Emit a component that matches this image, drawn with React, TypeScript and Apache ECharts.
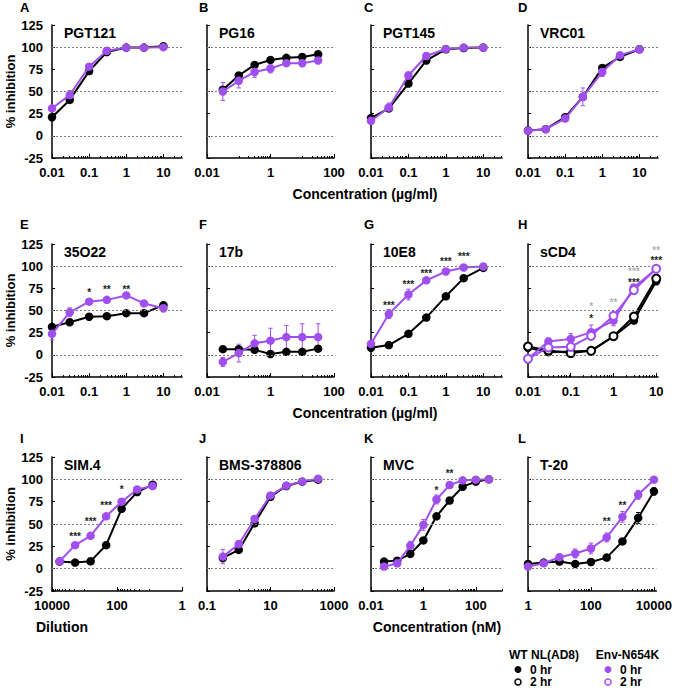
import React, { useEffect, useRef } from 'react';
import * as echarts from 'echarts';

const FONT = '"Liberation Sans", Arial, Helvetica, sans-serif';
const BLACK = '#000000';
const PURPLE = '#a14ef0';
const STAR_GRAY = '#b4b4b4';
const STAR_DARK = '#222222';

const PANEL_LETTERS = ['A', 'B', 'C', 'D', 'E', 'F', 'G', 'H', 'I', 'J', 'K', 'L'];
const PANEL_NAMES = ['PGT121', 'PG16', 'PGT145', 'VRC01', '35O22', '17b', '10E8', 'sCD4', 'SIM.4', 'BMS-378806', 'MVC', 'T-20'];

// x values (concentrations / dilutions)
const CONC_3X = [0.01, 0.03, 0.1, 0.3, 1, 3, 10];
const CONC_HALFLOG = [0.0316, 0.1, 0.316, 1, 3.16, 10, 31.6];
const DIL_SIM4 = [5832, 1944, 648, 216, 72, 24, 8];
const CONC_BMS = [0.316, 1, 3.16, 10, 31.6, 100, 316];
const CONC_MVC = [0.0316, 0.1, 0.316, 1, 3.16, 10, 31.6, 100, 316];
const CONC_T20 = [1, 3.16, 10, 31.6, 100, 316, 1000, 3162, 10000];

// x tick labels
const TICKS_DEC = [0.01, 0.1, 1, 10];
const TICKS_2DEC = [0.01, 1, 100];
const TICKS_DIL = [10000, 100, 1];
const TICKS_BMS = [0.1, 10, 1000];
const TICKS_T20 = [1, 100, 10000];
const Y_TICKS = [-25, 0, 25, 50, 75, 100, 125];
const GUIDE_LINES = [0, 50, 100];

// A PGT121
const A_WT = [21, 40.5, 73, 94.6, 99.5, 99.5, 101];
const A_N = [31, 46, 78, 96, 99.5, 99.5, 100];
const A_N_ERR = [2, 5, 3, 2, 1, 1, 1];
// B PG16
const B_WT = [52, 68, 80, 85.6, 88, 89, 92];
const B_WT_ERR = [2, 3, 1, 1, 1, 1, 1];
const B_N = [50, 62, 72, 76, 82, 82, 85];
const B_N_ERR = [10, 8, 6, 5, 3, 4, 3];
// C PGT145
const C_WT = [20, 31, 59, 85, 97.6, 99, 99.5];
const C_N = [17, 32, 68, 90, 98, 99.5, 99.5];
const C_N_ERR = [2, 5, 4, 2, 1, 1, 1];
// D VRC01
const D_WT = [6, 7.5, 21, 44, 76.6, 89, 97.6];
const D_N = [5.6, 7.5, 19.5, 44, 72, 91, 97.6];
const D_N_ERR = [1, 1, 2, 10, 5, 2, 1];
// E 35O22
const E_WT = [31.6, 36.8, 43, 43.6, 47, 47, 56];
const E_N = [23.7, 48, 60, 62, 67, 58, 52.6];
const E_N_ERR = [7, 5, 3, 2, 2, 2, 4];
const E_STAR_X = [0.1, 0.3, 1];
const E_STAR_Y = [73, 76, 76];
const E_STAR_T = ['*', '**', '**'];
// F 17b
const F_WT = [6.4, 6.4, 5.6, 1, 3.4, 3.4, 7];
const F_WT_ERR = [1, 3, 2, 1, 1, 1, 1];
const F_N = [-8, 2, 13, 16, 20, 20, 20];
const F_N_ERR = [5, 10, 9, 14, 13, 15, 15];
// G 10E8
const G_WT = [8, 11, 23.7, 42, 66, 86.5, 98];
const G_N = [12.4, 46, 68, 84, 94, 98.5, 99.6];
const G_N_ERR = [2, 5, 6, 2, 1, 1, 1];
const G_STAR_X = [0.03, 0.1, 0.3, 1, 3];
const G_STAR_Y = [58, 82, 95, 108.6, 114];
const G_STAR_T = ['***', '***', '***', '***', '***'];
// H sCD4
const H_WT_0 = [8, 3, 3.8, 4.5, 20.7, 38.7, 83];
const H_WT_2 = [9.4, 5, 2, 4.5, 21, 43.2, 86];
const H_N_0 = [-4.5, 15, 18, 25.6, 38.7, 76, 97];
const H_N_0_ERR = [2, 4, 6, 8, 6, 3, 1];
const H_N_2 = [-4.5, 8.3, 9, 21.4, 44, 73, 97];
const H_STAR2_X = [0.3, 1, 3, 10];
const H_STAR2_Y = [57, 62, 97, 120];
const H_STAR2_T = ['*', '**', '***', '**'];
const H_STAR0_X = [0.3, 3, 10];
const H_STAR0_Y = [44, 84, 109];
const H_STAR0_T = ['*', '***', '***'];
// I SIM.4
const I_WT = [7.9, 6.8, 8.3, 26.3, 67, 85.7, 94];
const I_N = [8.3, 26.3, 36.8, 58.6, 75, 88.7, 92.5];
const I_N_ERR = [2, 3, 2, 2, 2, 2, 1];
const I_STAR_X = [1944, 648, 216, 72];
const I_STAR_Y = [38.7, 56, 73.7, 91];
const I_STAR_T = ['***', '***', '***', '*'];
// J BMS-378806
const J_WT = [12, 21, 50.8, 80.5, 92.5, 97.4, 99.6];
const J_N = [13.5, 27.4, 55.6, 82, 93, 97.7, 100.7];
const J_N_ERR = [8, 4, 4, 2, 1, 1, 1];
// K MVC
const K_WT = [7.9, 9, 16.5, 31.6, 58.6, 76.3, 91.7, 97.4, 100];
const K_N = [2.3, 6, 25.6, 49, 77.4, 93.6, 98.9, 99.6, 100];
const K_N_ERR = [1, 2, 5, 6, 5, 2, 1, 1, 1];
const K_STAR_X = [3.16, 10];
const K_STAR_Y = [90, 109];
const K_STAR_T = ['*', '**'];
// L T-20
const L_WT = [5.3, 6.8, 7.9, 5.3, 7.5, 12.4, 30.5, 56.8, 86.5];
const L_WT_ERR = [1, 1, 1, 1, 1, 1, 2, 6, 4];
const L_N = [2.3, 6, 12.8, 17, 22.6, 35, 58, 82.7, 99.6];
const L_N_ERR = [1, 1, 2, 5, 6, 5, 6, 5, 1];
const L_STAR_X = [316, 1000];
const L_STAR_Y = [55.6, 73.7];
const L_STAR_T = ['**', '**'];

// layout
const COL_LEFT = [52, 207, 371, 528];
const COL_WIDTH = [130, 127, 131, 130];
const ROW_TOP = [25, 244, 457];
const ROW_HEIGHT = [133, 133, 134];

type S = { y: number[]; err?: number[]; color: string; open?: boolean };
type Star = { x: number[]; y: number[]; t: string[]; color: string };
type P = { xs: number[]; range: [number, number]; ticks: number[]; inverse?: boolean; series: S[]; stars?: Star[] };

const PANELS: P[] = [
  { xs: CONC_3X, range: [0.01, 31.6], ticks: TICKS_DEC, series: [{ y: A_WT, color: BLACK }, { y: A_N, err: A_N_ERR, color: PURPLE }] },
  { xs: CONC_HALFLOG, range: [0.01, 100], ticks: TICKS_2DEC, series: [{ y: B_WT, err: B_WT_ERR, color: BLACK }, { y: B_N, err: B_N_ERR, color: PURPLE }] },
  { xs: CONC_3X, range: [0.01, 31.6], ticks: TICKS_DEC, series: [{ y: C_WT, color: BLACK }, { y: C_N, err: C_N_ERR, color: PURPLE }] },
  { xs: CONC_3X, range: [0.01, 31.6], ticks: TICKS_DEC, series: [{ y: D_WT, color: BLACK }, { y: D_N, err: D_N_ERR, color: PURPLE }] },
  { xs: CONC_3X, range: [0.01, 31.6], ticks: TICKS_DEC, series: [{ y: E_WT, color: BLACK }, { y: E_N, err: E_N_ERR, color: PURPLE }],
    stars: [{ x: E_STAR_X, y: E_STAR_Y, t: E_STAR_T, color: STAR_DARK }] },
  { xs: CONC_HALFLOG, range: [0.01, 100], ticks: TICKS_2DEC, series: [{ y: F_WT, err: F_WT_ERR, color: BLACK }, { y: F_N, err: F_N_ERR, color: PURPLE }] },
  { xs: CONC_3X, range: [0.01, 31.6], ticks: TICKS_DEC, series: [{ y: G_WT, color: BLACK }, { y: G_N, err: G_N_ERR, color: PURPLE }],
    stars: [{ x: G_STAR_X, y: G_STAR_Y, t: G_STAR_T, color: STAR_DARK }] },
  { xs: CONC_3X, range: [0.01, 11], ticks: TICKS_DEC,
    series: [{ y: H_WT_0, color: BLACK }, { y: H_WT_2, color: BLACK, open: true }, { y: H_N_0, err: H_N_0_ERR, color: PURPLE }, { y: H_N_2, color: PURPLE, open: true }],
    stars: [{ x: H_STAR2_X, y: H_STAR2_Y, t: H_STAR2_T, color: STAR_GRAY }, { x: H_STAR0_X, y: H_STAR0_Y, t: H_STAR0_T, color: STAR_DARK }] },
  { xs: DIL_SIM4, range: [10000, 1], ticks: TICKS_DIL, inverse: true, series: [{ y: I_WT, color: BLACK }, { y: I_N, err: I_N_ERR, color: PURPLE }],
    stars: [{ x: I_STAR_X, y: I_STAR_Y, t: I_STAR_T, color: STAR_DARK }] },
  { xs: CONC_BMS, range: [0.1, 1000], ticks: TICKS_BMS, series: [{ y: J_WT, color: BLACK }, { y: J_N, err: J_N_ERR, color: PURPLE }] },
  { xs: CONC_MVC, range: [0.01, 1000], ticks: TICKS_2DEC, series: [{ y: K_WT, color: BLACK }, { y: K_N, err: K_N_ERR, color: PURPLE }],
    stars: [{ x: K_STAR_X, y: K_STAR_Y, t: K_STAR_T, color: STAR_DARK }] },
  { xs: CONC_T20, range: [1, 12000], ticks: TICKS_T20, series: [{ y: L_WT, err: L_WT_ERR, color: BLACK }, { y: L_N, err: L_N_ERR, color: PURPLE }],
    stars: [{ x: L_STAR_X, y: L_STAR_Y, t: L_STAR_T, color: STAR_DARK }] },
];

const lg = (v: number) => Math.log10(v);

function minorTicks(majors: number[], lo: number, hi: number): number[] {
  const s = Math.abs(majors[1] - majors[0]);
  const mn = Math.min(...majors) - s;
  const mx = Math.max(...majors) + s;
  const out: number[] = [];
  for (let a = mn; a < mx - 1e-9; a += s) {
    const base = a + s - 1;
    for (let k = 1; k <= 9; k++) {
      if (s === 1 && k === 1) continue;
      const v = base + Math.log10(k);
      if (v > lo + 1e-6 && v <= hi + 1e-6 && !majors.some((m) => Math.abs(m - v) < 1e-6)) out.push(v);
    }
  }
  return out;
}

function fmt(v: number): string {
  const p = Math.round(v);
  const n = Math.pow(10, p);
  return p >= 0 ? String(n) : n.toFixed(-p);
}

function buildOption() {
  const grid: any[] = [];
  const xAxis: any[] = [];
  const yAxis: any[] = [];
  const series: any[] = [];
  const graphic: any[] = [];

  PANELS.forEach((p, i) => {
    const row = Math.floor(i / 4);
    const col = i % 4;
    const left = COL_LEFT[col];
    const top = ROW_TOP[row];
    grid.push({ left, top, width: COL_WIDTH[col], height: ROW_HEIGHT[row], containLabel: false });
    const lo = Math.min(lg(p.range[0]), lg(p.range[1]));
    const hi = Math.max(lg(p.range[0]), lg(p.range[1]));
    const majors = p.ticks.map(lg);
    const minors = minorTicks(majors, lo, hi);
    xAxis.push({
      type: 'value', gridIndex: i, position: 'bottom', min: lo, max: hi, inverse: !!p.inverse,
      axisLine: { show: true, onZero: false, lineStyle: { color: BLACK, width: 1.5 } },
      axisTick: { show: true, inside: true, length: 4, customValues: majors, lineStyle: { color: BLACK, width: 1 } },
      axisLabel: { show: true, customValues: majors, formatter: fmt, margin: 8, color: BLACK, fontSize: 13, fontWeight: 'bold', fontFamily: FONT },
      splitLine: { show: false },
    });
    xAxis.push({
      type: 'value', gridIndex: i, position: 'bottom', min: lo, max: hi, inverse: !!p.inverse,
      axisLine: { show: false, onZero: false },
      axisTick: { show: true, inside: true, length: 2, customValues: minors, lineStyle: { color: BLACK, width: 1 } },
      axisLabel: { show: false },
      splitLine: { show: false },
    });
    yAxis.push({
      type: 'value', gridIndex: i, min: Y_TICKS[0], max: Y_TICKS[Y_TICKS.length - 1], interval: Y_TICKS[1] - Y_TICKS[0],
      axisLine: { show: true, onZero: false, lineStyle: { color: BLACK, width: 1.5 } },
      axisTick: { show: true, inside: true, length: 3, lineStyle: { color: BLACK, width: 1 } },
      axisLabel: { show: col === 0, margin: 9, color: BLACK, fontSize: 13, fontWeight: 'bold', fontFamily: FONT },
      splitLine: { show: false },
      name: col === 0 ? '% inhibition' : '',
      nameLocation: 'middle', nameGap: 35,
      nameTextStyle: { fontSize: 13, fontWeight: 'bold', color: BLACK, fontFamily: FONT },
    });
    const xi = 2 * i;
    p.series.forEach((s, si) => {
      if (s.err) {
        const color = s.color;
        series.push({
          type: 'custom', xAxisIndex: xi, yAxisIndex: i, z: 2, silent: true,
          encode: { x: 0, y: [1, 2] },
          data: p.xs.map((x, k) => [lg(x), s.y[k] - s.err![k], s.y[k] + s.err![k]]),
          renderItem: (_params: any, api: any) => {
            const x = api.value(0);
            const a = api.coord([x, api.value(1)]);
            const b = api.coord([x, api.value(2)]);
            const c = 2.2;
            const st = { stroke: color, lineWidth: 1 };
            return {
              type: 'group',
              children: [
                { type: 'line', shape: { x1: a[0], y1: a[1], x2: b[0], y2: b[1] }, style: st },
                { type: 'line', shape: { x1: a[0] - c, y1: a[1], x2: a[0] + c, y2: a[1] }, style: st },
                { type: 'line', shape: { x1: b[0] - c, y1: b[1], x2: b[0] + c, y2: b[1] }, style: st },
              ],
            };
          },
        });
      }
      const line: any = {
        type: 'line', xAxisIndex: xi, yAxisIndex: i, z: 3 + si, silent: true,
        data: p.xs.map((x, k) => [lg(x), s.y[k]]),
        symbol: 'circle', symbolSize: s.open ? 8 : 8.5, showSymbol: true,
        lineStyle: { color: s.color, width: 2 },
        itemStyle: s.open ? { color: '#ffffff', borderColor: s.color, borderWidth: 2 } : { color: s.color, borderWidth: 0 },
        emphasis: { disabled: true },
      };
      if (si === 0) {
        line.markLine = {
          silent: true, symbol: ['none', 'none'], label: { show: false },
          lineStyle: { color: '#7d7d7d', type: [2, 2], width: 1 },
          data: GUIDE_LINES.map((v) => ({ yAxis: v })),
        };
      }
      series.push(line);
    });
    (p.stars || []).forEach((st) => {
      series.push({
        type: 'custom', xAxisIndex: xi, yAxisIndex: i, z: 8, silent: true,
        encode: { x: 0, y: 1 },
        data: st.x.map((x, k) => [lg(x), st.y[k]]),
        renderItem: (params: any, api: any) => {
          const pt = api.coord([api.value(0), api.value(1)]);
          return {
            type: 'text', x: pt[0], y: pt[1] + 2.5,
            style: { text: st.t[params.dataIndex], fill: st.color, font: `bold 10px ${FONT}`, lineHeight: 7, align: 'center', verticalAlign: 'middle' },
          };
        },
      });
    });
    // panel letter & title
    const letterX = [20, 199, 364, 518][col];
    const letterY = [7, 224, 438][row];
    graphic.push({ type: 'text', x: letterX, y: letterY, silent: true,
      style: { text: PANEL_LETTERS[i], font: `bold 13px ${FONT}`, fill: BLACK, align: 'left', verticalAlign: 'middle' } });
    graphic.push({ type: 'text', x: left + 12, y: top + 8, silent: true,
      style: { text: PANEL_NAMES[i], font: `bold 14px ${FONT}`, fill: BLACK, align: 'left', verticalAlign: 'middle' } });
  });

  const axisTitle = (text: string, x: number, y: number) => ({
    type: 'text', x, y, silent: true,
    style: { text, font: `bold 14px ${FONT}`, fill: BLACK, align: 'center', verticalAlign: 'middle' },
  });
  graphic.push(axisTitle('Concentration (µg/ml)', 365, 194));
  graphic.push(axisTitle('Concentration (µg/ml)', 365, 413));
  graphic.push(axisTitle('Dilution', 62, 627));
  graphic.push(axisTitle('Concentration (nM)', 437, 627));

  // legend
  const lt = (text: string, x: number, y: number, align: string) => ({
    type: 'text', x, y, silent: true,
    style: { text, font: `bold 12px ${FONT}`, fill: BLACK, align, verticalAlign: 'middle' },
  });
  graphic.push(lt('WT NL(AD8)', 544, 655, 'center'));
  graphic.push(lt('Env-N654K', 627.5, 655, 'center'));
  graphic.push({ type: 'circle', silent: true, shape: { cx: 518, cy: 669.5, r: 3.5 }, style: { fill: BLACK } });
  graphic.push({ type: 'circle', silent: true, shape: { cx: 518, cy: 682, r: 3 }, style: { fill: '#fff', stroke: BLACK, lineWidth: 1.5 } });
  graphic.push(lt('0 hr', 530, 669.5, 'left'));
  graphic.push(lt('2 hr', 530, 682, 'left'));
  graphic.push({ type: 'circle', silent: true, shape: { cx: 608, cy: 669.5, r: 3.5 }, style: { fill: PURPLE } });
  graphic.push({ type: 'circle', silent: true, shape: { cx: 608, cy: 682, r: 3 }, style: { fill: '#fff', stroke: PURPLE, lineWidth: 1.5 } });
  graphic.push(lt('0 hr', 620, 669.5, 'left'));
  graphic.push(lt('2 hr', 620, 682, 'left'));

  return {
    animation: false,
    backgroundColor: '#ffffff',
    textStyle: { fontFamily: FONT },
    grid, xAxis, yAxis, series, graphic,
  };
}

export default function App() {
  const ref = useRef<HTMLDivElement>(null);
  useEffect(() => {
    if (!ref.current) return;
    const chart = echarts.init(ref.current, undefined, { renderer: 'svg' });
    chart.setOption(buildOption() as any);
    return () => chart.dispose();
  }, []);
  return <div ref={ref} style={{ position: 'absolute', left: 0, top: 0, width: 675, height: 688 }} />;
}
